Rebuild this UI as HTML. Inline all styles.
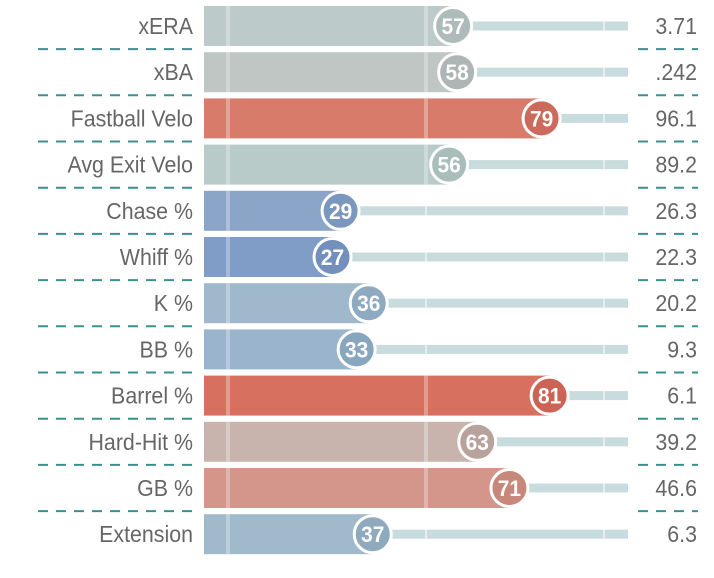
<!DOCTYPE html>
<html><head><meta charset="utf-8"><style>
html,body{margin:0;padding:0;background:#fff;}
svg{display:block;}
.l{font-family:"Liberation Sans Narrow","Liberation Sans",sans-serif;font-size:23px;fill:#666;}
.n{font-family:"Liberation Sans Narrow","Liberation Sans",sans-serif;font-size:22px;font-weight:bold;fill:#fff;}
</style></head><body>
<svg width="714" height="578" xmlns="http://www.w3.org/2000/svg" id="s"></svg>
<script>
const rows=[
["xERA",57,"3.71","#bccac9","#adbcbb"],
["xBA",58,".242","#bfc6c4","#adb6b4"],
["Fastball Velo",79,"96.1","#d97b6b","#cc6a5b"],
["Avg Exit Velo",56,"89.2","#b9cbc9","#a9bdbb"],
["Chase %",29,"26.3","#8ba5c9","#7c97bd"],
["Whiff %",27,"22.3","#7f9dc7","#7290bb"],
["K %",36,"20.2","#9fb8cc","#8eaac0"],
["BB %",33,"9.3","#99b4cc","#89a6bf"],
["Barrel %",81,"6.1","#d87060","#cc6354"],
["Hard-Hit %",63,"39.2","#c8b4ad","#b8a39c"],
["GB %",71,"46.6","#d4968a","#c8877b"],
["Extension",37,"6.3","#a0b9cb","#8faabe"]];
let h="";
rows.forEach((r,i)=>{
 const cy=26+46.2*i, top=cy-20, cx=224+4.02*r[1];
 h+=`<rect x="204" y="${top}" width="${cx-204}" height="40" fill="${r[3]}"/>`;
 h+=`<rect x="${cx}" y="${cy-4.5}" width="${628-cx}" height="9" fill="#c8dcdd"/>`;
 [228,426,604].forEach(x=>{ if(x<cx) h+=`<rect x="${x-2}" y="${top}" width="4" height="40" fill="#fff" opacity="0.3"/>`; else h+=`<rect x="${x-1}" y="${cy-4.5}" width="2" height="9" fill="#fff" opacity="0.5"/>`;});
 h+=`<circle cx="${cx}" cy="${cy}" r="18.5" fill="${r[4]}" stroke="#fff" stroke-width="3"/>`;
 h+=`<text class="n" text-anchor="middle" transform="translate(${cx},${cy+8}) scale(0.95,1)">${r[1]}</text>`;
 h+=`<text class="l" text-anchor="end" transform="translate(193,${cy+8}) scale(0.93,1)">${r[0]}</text>`;
 h+=`<text class="l" text-anchor="end" transform="translate(697,${cy+8}) scale(0.93,1)">${r[2]}</text>`;
 if(i<11){const dy=cy+23.1;
  h+=`<line x1="38" x2="194" y1="${dy}" y2="${dy}" stroke="#3a9090" stroke-width="2" stroke-dasharray="10,8"/>`;
  h+=`<line x1="638" x2="698" y1="${dy}" y2="${dy}" stroke="#3a9090" stroke-width="2" stroke-dasharray="10,8"/>`;}
});
document.getElementById("s").innerHTML=h;
</script>
</body></html>
